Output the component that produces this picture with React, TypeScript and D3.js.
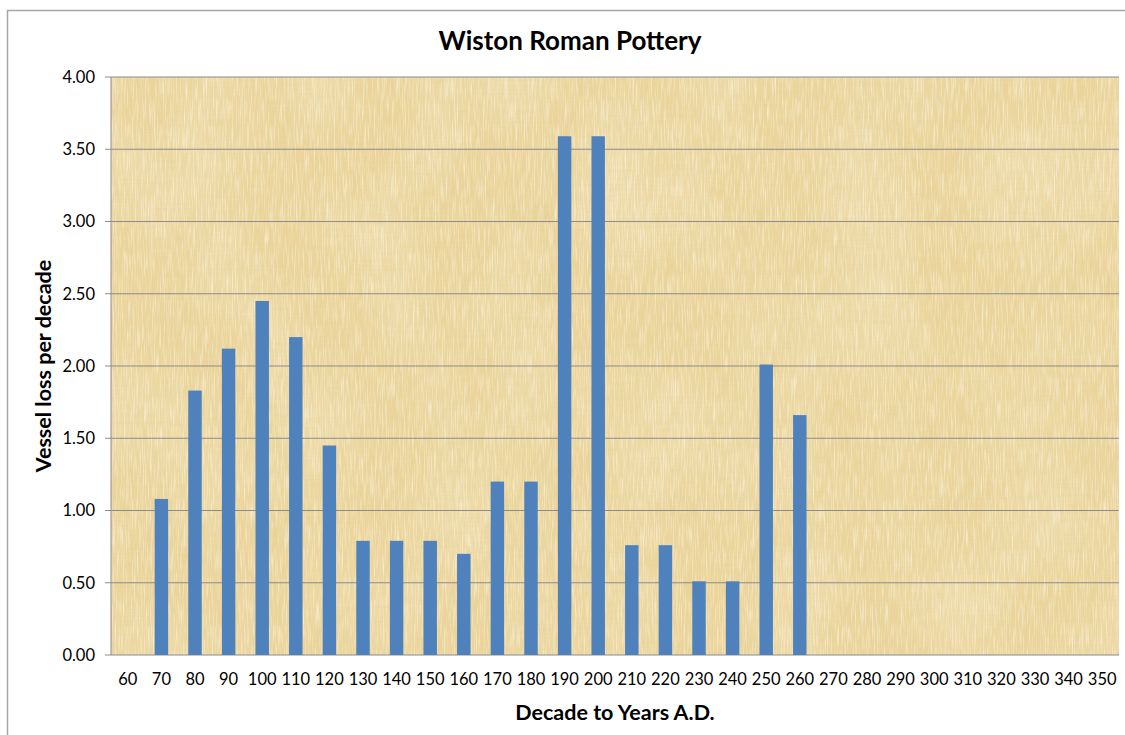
import * as d3 from "d3";

// decades (years A.D.)
const decades = [60, 70, 80, 90, 100, 110, 120, 130, 140, 150, 160, 170, 180, 190, 200, 210, 220, 230, 240, 250, 260, 270, 280, 290, 300, 310, 320, 330, 340, 350];
// vessel loss per decade
const vesselLoss = [0, 1.08, 1.83, 2.12, 2.45, 2.2, 1.45, 0.79, 0.79, 0.79, 0.7, 1.2, 1.2, 3.59, 3.59, 0.76, 0.76, 0.51, 0.51, 2.01, 1.66, 0, 0, 0, 0, 0, 0, 0, 0, 0];
const yTicks = [0, 0.5, 1, 1.5, 2, 2.5, 3, 3.5, 4];

const W = 1125;
const H = 735;
const plot = { left: 111, right: 1119, top: 77, bottom: 655 };
const font = "Lato, 'Open Sans', sans-serif";

export default function App() {
  const x = d3
    .scaleBand<number>()
    .domain(decades)
    .range([plot.left, plot.right])
    .paddingInner(0.6)
    .paddingOuter(0.3);
  const y = d3.scaleLinear().domain([0, 4]).range([plot.bottom, plot.top]);
  const fmt = d3.format(".2f");
  const pw = plot.right - plot.left;
  const ph = plot.bottom - plot.top;

  return (
    <svg
      width={W}
      height={H}
      style={{ position: "fixed", left: 0, top: 0, background: "#fff" }}
      fontFamily={font}
    >
      <defs>
        <filter id="fibres" x="0" y="0" width="100%" height="100%">
          <feTurbulence type="fractalNoise" baseFrequency="0.5 0.02" numOctaves="3" seed="4" result="v" />
          <feTurbulence type="fractalNoise" baseFrequency="0.02 0.45" numOctaves="3" seed="9" result="h" />
          <feBlend in="v" in2="h" mode="multiply" result="n" />
          <feColorMatrix
            in="n"
            type="matrix"
            values="0 0 0 0 0.72  0 0 0 0 0.6  0 0 0 0 0.3  -2 0 0 0 1.05"
          />
        </filter>
        <filter id="light" x="0" y="0" width="100%" height="100%">
          <feTurbulence type="fractalNoise" baseFrequency="0.9 0.04" numOctaves="2" seed="7" />
          <feColorMatrix
            type="matrix"
            values="0 0 0 0 1  0 0 0 0 0.95  0 0 0 0 0.84  2.2 0 0 0 -1.0"
          />
        </filter>
        <filter id="blotch" x="0" y="0" width="100%" height="100%">
          <feTurbulence type="fractalNoise" baseFrequency="0.012 0.008" numOctaves="2" seed="2" />
          <feColorMatrix
            type="matrix"
            values="0 0 0 0 0.98  0 0 0 0 0.93  0 0 0 0 0.78  1.2 0 0 0 -0.45"
          />
        </filter>
      </defs>

      {/* chart frame */}
      <rect x={7.5} y={10.5} width={W} height={H} fill="#fff" stroke="#a6a6a6" strokeWidth={1.5} />

      {/* title */}
      <text x={570} y={50} textAnchor="middle" fontSize={26} fontWeight={700} fill="#000">
        Wiston Roman Pottery
      </text>

      {/* plot background */}
      <rect x={plot.left} y={plot.top} width={pw} height={ph} fill="#ebd59c" />
      <rect x={plot.left} y={plot.top} width={pw} height={ph} filter="url(#blotch)" opacity={0.4} />
      <rect x={plot.left} y={plot.top} width={pw} height={ph} filter="url(#fibres)" opacity={0.4} />
      <rect x={plot.left} y={plot.top} width={pw} height={ph} filter="url(#light)" opacity={0.65} />

      {/* gridlines + y ticks */}
      {yTicks.map((t) => (
        <g key={t}>
          <line x1={plot.left} x2={plot.right} y1={y(t)} y2={y(t)} stroke="#8c8c8c" strokeWidth={1.2} />
          <line x1={plot.left - 6} x2={plot.left} y1={y(t)} y2={y(t)} stroke="#8c8c8c" strokeWidth={1} />
          <text x={95} y={y(t)} dy="0.35em" textAnchor="end" fontSize={16.5} fill="#000">
            {fmt(t)}
          </text>
        </g>
      ))}
      <line x1={plot.left} x2={plot.left} y1={plot.top} y2={plot.bottom} stroke="#8c8c8c" strokeWidth={1} />

      {/* bars */}
      {decades.map((d, i) =>
        vesselLoss[i] > 0 ? (
          <rect
            key={d}
            x={x(d)}
            y={y(vesselLoss[i])}
            width={x.bandwidth()}
            height={y(0) - y(vesselLoss[i])}
            fill="#4f81bd"
          />
        ) : null
      )}

      {/* x labels */}
      {decades.map((d) => (
        <text
          key={d}
          x={(x(d) ?? 0) + x.bandwidth() / 2}
          y={679}
          dy="0.35em"
          textAnchor="middle"
          fontSize={16.5}
          fill="#000"
        >
          {d}
        </text>
      ))}

      {/* axis titles */}
      <text x={615} y={720} textAnchor="middle" fontSize={21.5} fontWeight={700} fill="#000">
        Decade to Years A.D.
      </text>
      <text
        transform={`translate(51, ${(plot.top + plot.bottom) / 2}) rotate(-90)`}
        textAnchor="middle"
        fontSize={21.5}
        fontWeight={700}
        fill="#000"
      >
        Vessel loss per decade
      </text>
    </svg>
  );
}
